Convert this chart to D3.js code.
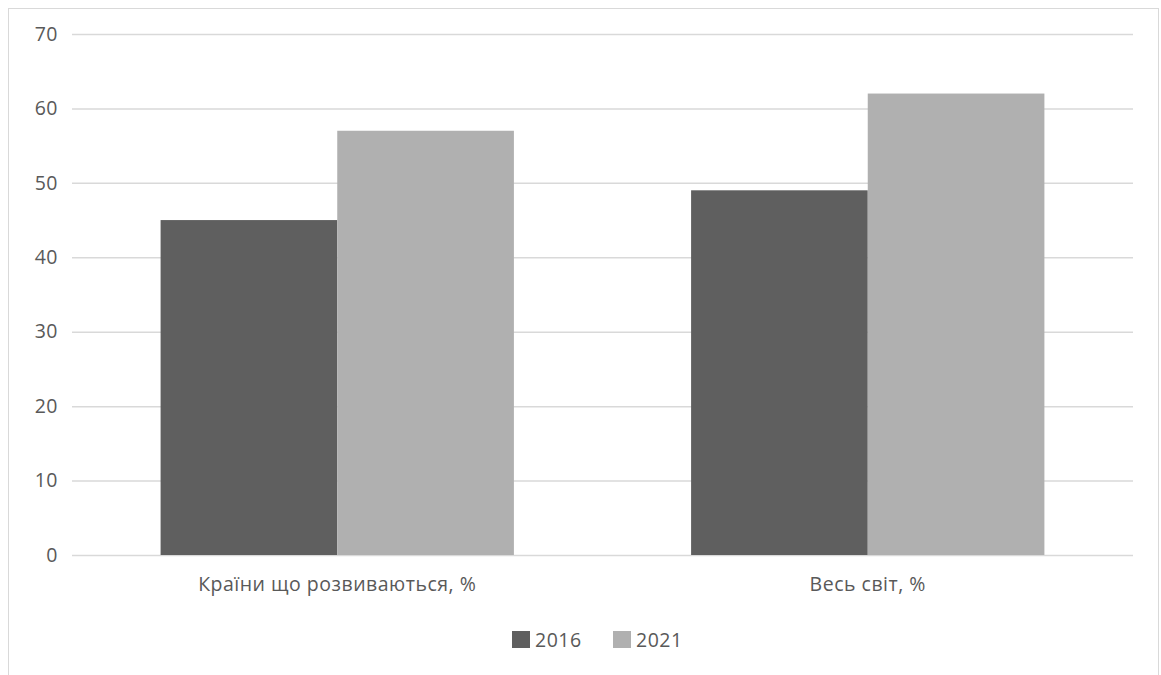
<!DOCTYPE html>
<html>
<head>
<meta charset="utf-8">
<script src="https://cdn.jsdelivr.net/npm/d3@7"></script>
<style>
  html, body { margin: 0; padding: 0; background: #fff; }
  svg { display: block; }
  text { font-family: "Open Sans", "Noto Sans", sans-serif; fill: #595959; letter-spacing: 0.5px; }
</style>
</head>
<body>
<svg id="chart" width="1161" height="675"></svg>
<script>
// Categories, series and axis ticks
const categories = ["Країни що розвиваються, %", "Весь світ, %"];
const seriesNames = ["2016", "2021"];
const values2016 = [45, 49];
const values2021 = [57, 62];
const yTicks = [0, 10, 20, 30, 40, 50, 60, 70];
const seriesColors = ["#5f5f5f", "#b0b0b0"];

const seriesValues = [values2016, values2021];
const FONT = "'Open Sans', 'Noto Sans', sans-serif";
const FS = 19.5;

const svg = d3.select("#chart");
const plot = { left: 72, right: 1133, top: 34, bottom: 555 };

// Outer frame
svg.append("rect")
  .attr("x", 8.5).attr("y", 8.5)
  .attr("width", 1150).attr("height", 700)
  .attr("fill", "none").attr("stroke", "#d9d9d9").attr("stroke-width", 1);

const x0 = d3.scaleBand()
  .domain(categories)
  .range([plot.left, plot.right])
  .paddingInner(0.334)
  .paddingOuter(0.167);

const x1 = d3.scaleBand()
  .domain(seriesNames)
  .range([0, x0.bandwidth()]);

const y = d3.scaleLinear().domain([0, 70]).range([plot.bottom, plot.top]);

// Gridlines and value axis
const yAxis = d3.axisLeft(y)
  .tickValues(yTicks)
  .tickSize(-(plot.right - plot.left))
  .tickPadding(14);

const gy = svg.append("g")
  .attr("transform", `translate(${plot.left},0)`)
  .call(yAxis);
gy.select(".domain").remove();
gy.selectAll(".tick line").attr("stroke", "#d9d9d9").attr("stroke-width", 1.5);
gy.selectAll(".tick text")
  .attr("font-size", FS)
  .attr("fill", "#595959")
  .style("font-family", FONT);

// Bars
const groups = svg.append("g").selectAll("g")
  .data(categories)
  .join("g")
  .attr("transform", d => `translate(${x0(d)},0)`);

groups.selectAll("rect")
  .data((d, i) => seriesNames.map((s, j) => ({ s, v: seriesValues[j][i], j })))
  .join("rect")
  .attr("x", d => x1(d.s))
  .attr("width", x1.bandwidth())
  .attr("y", d => y(d.v))
  .attr("height", d => y(0) - y(d.v))
  .attr("fill", d => seriesColors[d.j]);

// Category axis labels
const xAxis = d3.axisBottom(x0).tickSize(0).tickPadding(22);
const gx = svg.append("g")
  .attr("transform", `translate(0,${plot.bottom})`)
  .call(xAxis);
gx.select(".domain").remove();
gx.selectAll(".tick text")
  .attr("font-size", FS)
  .attr("fill", "#595959")
  .style("font-family", FONT);

// Legend
const legendItems = [
  { name: seriesNames[0], color: seriesColors[0], x: 512 },
  { name: seriesNames[1], color: seriesColors[1], x: 613 }
];
const legend = svg.append("g");
legendItems.forEach(it => {
  legend.append("rect")
    .attr("x", it.x).attr("y", 631)
    .attr("width", 18).attr("height", 17)
    .attr("fill", it.color);
  legend.append("text")
    .attr("x", it.x + 23).attr("y", 647)
    .attr("font-size", FS)
    .style("font-family", FONT)
    .text(it.name);
});
</script>
</body>
</html>
